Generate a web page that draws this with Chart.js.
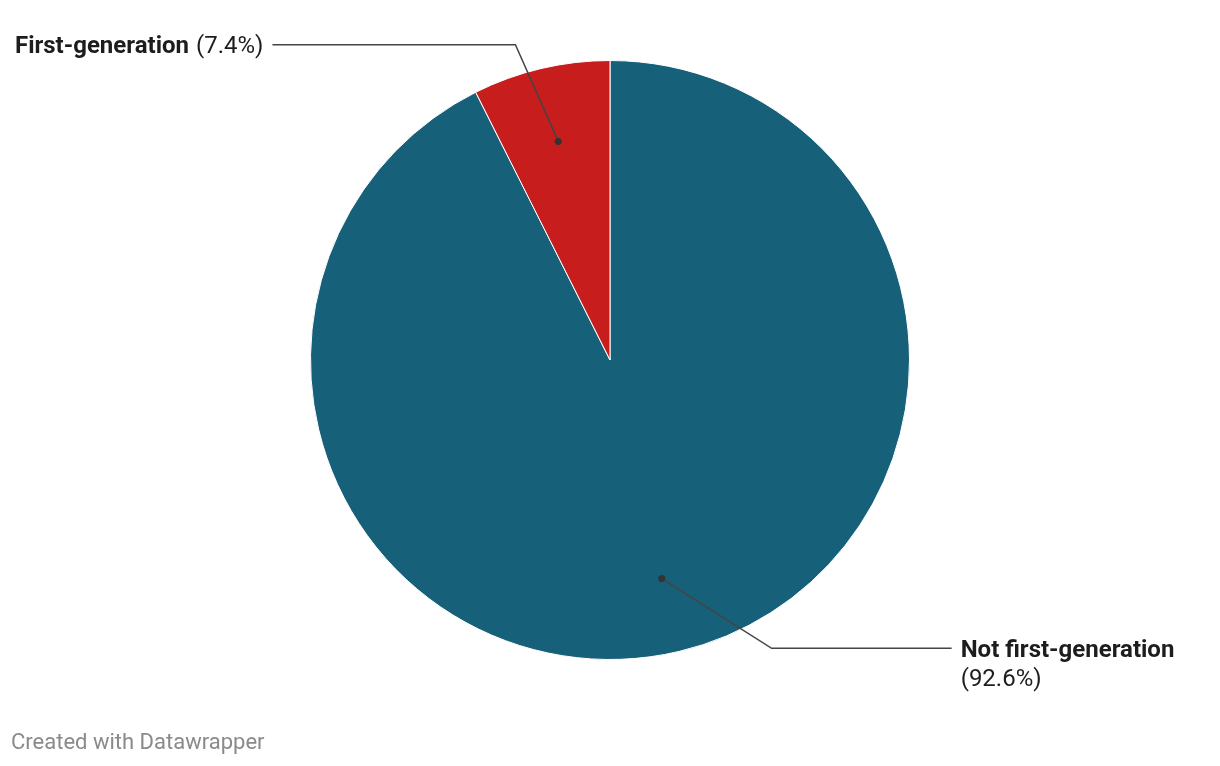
<!DOCTYPE html>
<html><head><meta charset="utf-8">
<script src="https://cdn.jsdelivr.net/npm/chart.js@4/dist/chart.umd.min.js"></script>
<style>
html,body{margin:0;padding:0;background:#fff;}
#wrap{position:relative;width:1220px;height:766px;}
#footer{position:absolute;left:11px;top:729px;font-family:Roboto,sans-serif;font-size:22px;color:#8a8a8a;}
</style></head>
<body>
<div id="wrap"><canvas id="c" width="1220" height="766"></canvas>
<div id="footer">Created with Datawrapper</div></div>
<script>
const categories = ["Not first-generation", "First-generation"];
const values = [92.6, 7.4];
const colors = ["#17607a", "#c71e1d"];
const valueLabels = ["(92.6%)", "(7.4%)"];

const calloutPlugin = {
  id: 'callouts',
  afterDatasetsDraw(chart) {
    const ctx = chart.ctx;
    const meta = chart.getDatasetMeta(0);
    ctx.save();
    meta.data.forEach((arc, i) => {
      const p = arc.getProps(['x','y','startAngle','endAngle','outerRadius'], true);
      const mid = (p.startAngle + p.endAngle) / 2;
      const r = p.outerRadius;
      const dx = p.x + Math.cos(mid) * r * 0.75;
      const dy = p.y + Math.sin(mid) * r * 0.75;
      let ex, ey, hx;
      if (i === 1) { ex = dx - 0.143 * r; ey = dy - 0.323 * r; hx = ex - 243; }
      else { ex = dx + 0.367 * r; ey = dy + 0.233 * r; hx = ex + 180; }
      ctx.strokeStyle = '#444';
      ctx.lineWidth = 1.5;
      ctx.beginPath();
      ctx.moveTo(dx, dy); ctx.lineTo(ex, ey); ctx.lineTo(hx, ey);
      ctx.stroke();
      ctx.fillStyle = '#333';
      ctx.beginPath(); ctx.arc(dx, dy, 3.5, 0, Math.PI * 2); ctx.fill();
      ctx.fillStyle = '#1d1d1d';
      ctx.textBaseline = 'alphabetic';
      if (i === 1) {
        ctx.font = '24px Roboto';
        const w2 = ctx.measureText(valueLabels[i]).width;
        ctx.font = 'bold 24px Roboto';
        const w1 = ctx.measureText(categories[i] + ' ').width;
        const right = hx - 9;
        ctx.textAlign = 'left';
        ctx.fillText(categories[i], right - w2 - w1 - 1, ey + 8);
        ctx.font = '24px Roboto';
        ctx.fillText(valueLabels[i], right - w2, ey + 8);
      } else {
        ctx.textAlign = 'left';
        ctx.font = 'bold 24px Roboto';
        ctx.fillText(categories[i], hx + 9, ey + 9);
        ctx.font = '24px Roboto';
        ctx.fillText(valueLabels[i], hx + 9, ey + 38);
      }
    });
    ctx.restore();
  }
};

new Chart(document.getElementById('c'), {
  type: 'pie',
  data: { labels: categories, datasets: [{ data: values, backgroundColor: colors, borderColor: '#fff', borderWidth: 1 }] },
  options: {
    responsive: false, animation: false,
    layout: { padding: { top: 60, bottom: 106, left: 0, right: 0 } },
    plugins: { legend: { display: false }, tooltip: { enabled: false } }
  },
  plugins: [calloutPlugin]
});
</script>
</body></html>
